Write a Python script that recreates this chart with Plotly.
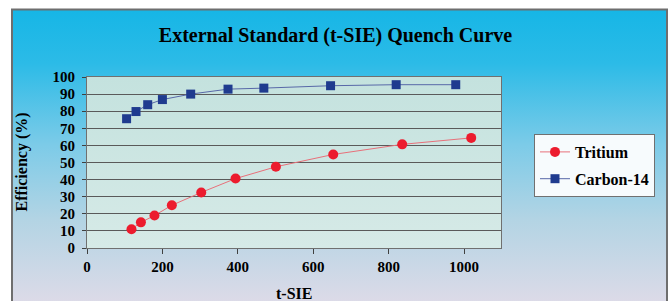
import base64
import plotly.graph_objects as go

# ---- data ----
tritium_x = [118, 143, 179, 225, 303, 394, 501, 653, 836, 1019]
tritium_y = [11, 15, 19, 25, 32.5, 40.6, 47.5, 54.7, 60.6, 64.4]
carbon_x = [105, 130, 161, 200, 275, 374, 469, 646, 820, 978]
carbon_y = [75.6, 79.8, 83.8, 86.8, 90, 92.9, 93.5, 94.9, 95.5, 95.5]
series_names = ["Tritium", "Carbon-14"]
x_title = "t-SIE"
y_title = "Efficiency (%)"
chart_title = "External Standard (t-SIE) Quench Curve"

W, H = 671, 301
ML, MR, MT, MB = 87, 170, 77, 53
PW, PH = W - ML - MR, H - MT - MB

svg = f'''<svg xmlns="http://www.w3.org/2000/svg" width="{W}" height="{H}" viewBox="0 0 {W} {H}" preserveAspectRatio="none">
<defs>
<linearGradient id="g" x1="0" y1="0" x2="0" y2="1">
<stop offset="0" stop-color="#16b6e6"/>
<stop offset="0.18" stop-color="#2cbbe7"/>
<stop offset="0.45" stop-color="#7ccbe8"/>
<stop offset="0.7" stop-color="#b3d4e4"/>
<stop offset="1" stop-color="#e0dbe8"/>
</linearGradient>
<linearGradient id="p" x1="0" y1="0" x2="0" y2="1">
<stop offset="0" stop-color="#c4e2de"/>
<stop offset="1" stop-color="#d6eae7"/>
</linearGradient>
</defs>
<rect x="0" y="0" width="{W}" height="{H}" fill="#ffffff"/>
<rect x="12" y="9.5" width="655" height="300" fill="url(#g)" stroke="#6e6e6e" stroke-width="2"/>
<rect x="{ML}" y="{MT}" width="{PW}" height="{PH}" fill="url(#p)"/>
</svg>'''
src = "data:image/svg+xml;base64," + base64.b64encode(svg.encode()).decode()

font = "Liberation Serif"

fig = go.Figure()
fig.add_trace(go.Scatter(
    x=tritium_x, y=tritium_y, mode="lines+markers", name=series_names[0],
    legendgroup="a",
    line=dict(color="#e8707a", width=1),
    marker=dict(symbol="circle", size=10, color="#ec1c2e"),
))
fig.add_trace(go.Scatter(
    x=carbon_x, y=carbon_y, mode="lines+markers", name=series_names[1],
    legendgroup="b",
    line=dict(color="#5868a8", width=1),
    marker=dict(symbol="square", size=9, color="#1f3b8f"),
))

fig.update_layout(
    width=W, height=H,
    margin=dict(l=ML, r=MR, t=MT, b=MB, autoexpand=False),
    paper_bgcolor="white",
    plot_bgcolor="rgba(0,0,0,0)",
    images=[dict(
        source=src, xref="paper", yref="paper",
        x=-ML / PW, y=1 + MT / PH, sizex=W / PW, sizey=H / PH,
        xanchor="left", yanchor="top", sizing="stretch", layer="below",
    )],
    title=dict(
        text=f"<b>{chart_title}</b>",
        font=dict(family=font, size=20, color="#000000"),
        x=0.5, xanchor="center", y=1 - 35 / H, yanchor="middle",
    ),
    font=dict(family=font, color="#000000"),
    showlegend=True,
    legend=dict(
        x=(534 - ML) / PW, y=(248 - 134) / PH, xanchor="left", yanchor="top",
        bgcolor="#f7fbfd", bordercolor="#707070", borderwidth=1,
        font=dict(family=font, size=16, color="#000000", weight="bold"),
        tracegroupgap=3, entrywidth=85,
    ),
    xaxis=dict(
        range=[0, 1098], dtick=200, tick0=0, automargin=False,
        showgrid=False, zeroline=False,
        showline=True, linecolor="#707070", linewidth=1, mirror=True,
        ticks="outside", ticklen=5, tickcolor="#404040",
        tickfont=dict(family=font, size=15, color="#000000", weight="bold"),
    ),
    yaxis=dict(
        range=[0, 100], dtick=10, tick0=0, automargin=False,
        showgrid=True, gridcolor="#5a5a5a", gridwidth=1, zeroline=False,
        showline=True, linecolor="#707070", linewidth=1, mirror=True,
        ticks="outside", ticklen=4, tickcolor="#404040",
        ticklabelstandoff=4,
        tickfont=dict(family=font, size=15, color="#000000", weight="bold"),
    ),
    annotations=[
        dict(text=f"<b>{x_title}</b>", xref="paper", yref="paper",
             x=(294 - ML) / PW, y=-(293 - MT - PH) / PH,
             xanchor="center", yanchor="middle", showarrow=False,
             font=dict(family=font, size=16, color="#000000")),
        dict(text=f"<b>{y_title}</b>", xref="paper", yref="paper",
             x=(21 - ML) / PW, y=0.5, textangle=-90,
             xanchor="center", yanchor="middle", showarrow=False,
             font=dict(family=font, size=16, color="#000000")),
    ],
)

fig.write_html(
    "out.html",
    config={"displayModeBar": False},
    post_script="document.body.style.margin='0';document.body.style.overflow='hidden';",
)
